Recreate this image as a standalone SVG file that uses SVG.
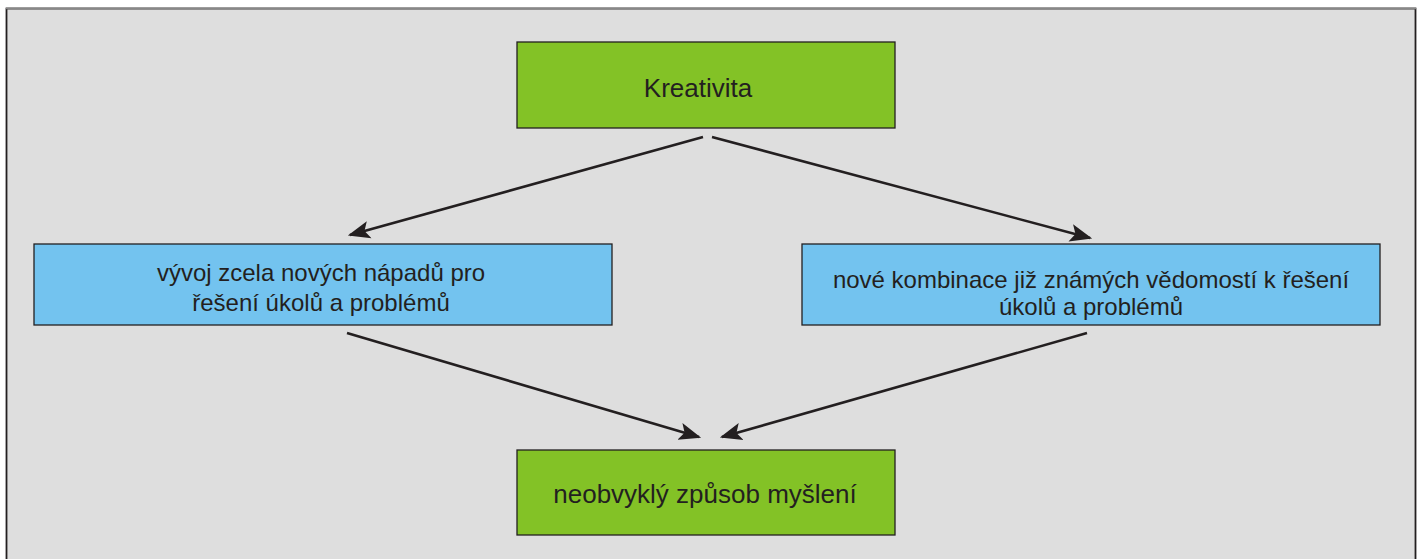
<svg xmlns="http://www.w3.org/2000/svg" width="1419" height="559" viewBox="0 0 1419 559">
<style>
.t{font-family:"Liberation Sans",Arial,sans-serif;font-size:24px;fill:#231f20;text-anchor:middle}
.tl{font-size:26px}
.g{fill:#83c226;stroke:#231f20;stroke-width:1.3}
.b{fill:#73c3ef;stroke:#231f20;stroke-width:1.3}
.c{stroke:#231f20;stroke-width:2.6;fill:none;marker-end:url(#ah)}
</style>
<defs>
<marker id="ah" viewBox="0 0 10 10" refX="9" refY="5" markerWidth="8.5" markerHeight="8.5" markerUnits="strokeWidth" orient="auto">
<path d="M0,1 L10,5 L0,9 L2.2,5 Z" fill="#231f20"/>
</marker>
</defs>
<rect x="0" y="0" width="1419" height="559" fill="#ffffff"/>
<rect x="6.5" y="8.5" width="1409" height="560" fill="#dedede" stroke="#231f20" stroke-width="1.8"/>
<line x1="6" y1="8.5" x2="1416" y2="8.5" stroke="#888" stroke-width="1.5"/>
<g id="connectors">
<line class="c" x1="703" y1="137" x2="350" y2="235"/>
<line class="c" x1="712" y1="137" x2="1090" y2="238"/>
<line class="c" x1="347" y1="333" x2="699" y2="437"/>
<line class="c" x1="1087" y1="333" x2="722" y2="437"/>
</g>
<g id="kreativita">
<rect class="g" x="517" y="42" width="378" height="86"/>
<text class="t tl" x="698" y="97">Kreativita</text>
</g>
<g id="vyvoj">
<rect class="b" x="34" y="244" width="578" height="81"/>
<text class="t" x="321" y="281">vývoj zcela nových nápadů pro</text>
<text class="t" x="321" y="311">řešení úkolů a problémů</text>
</g>
<g id="kombinace">
<rect class="b" x="802" y="244" width="578" height="81"/>
<text class="t" x="1091" y="288">nové kombinace již známých vědomostí k řešení</text>
<text class="t" x="1091" y="315">úkolů a problémů</text>
</g>
<g id="zpusob">
<rect class="g" x="517" y="450" width="378" height="85"/>
<text class="t tl" x="705" y="503">neobvyklý způsob myšlení</text>
</g>
</svg>
